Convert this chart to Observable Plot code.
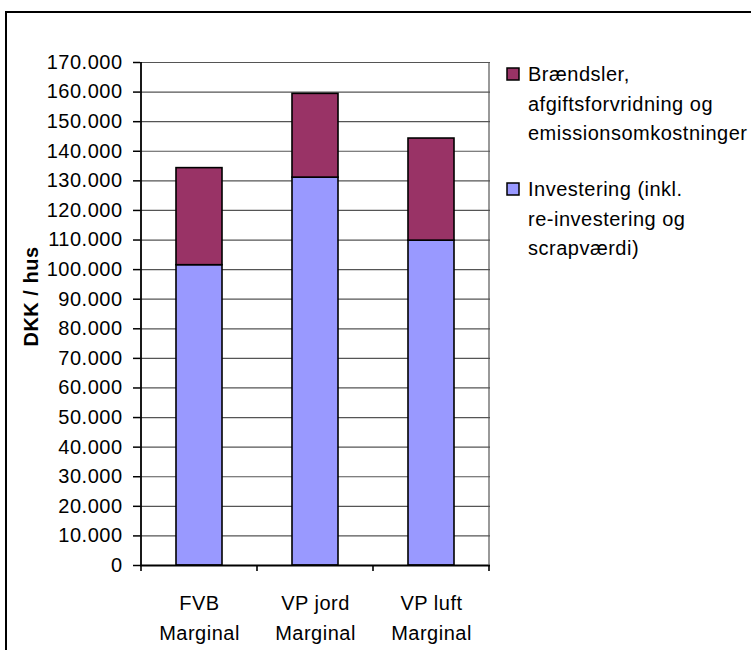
<!DOCTYPE html>
<html>
<head>
<meta charset="utf-8">
<script src="https://cdn.jsdelivr.net/npm/d3@7"></script>
<script src="https://cdn.jsdelivr.net/npm/@observablehq/plot@0.6"></script>
<style>
  html, body { margin: 0; padding: 0; background: #fff; overflow: hidden; }
  #wrap { position: relative; width: 751px; height: 650px; }
  #frame { position: absolute; left: 5px; top: 11px; width: 900px; height: 800px;
           border: 2px solid #000; box-sizing: border-box; }
  #chart { position: absolute; left: 0; top: 0; }
  #chart text { letter-spacing: 0.5px; }
</style>
</head>
<body>
<div id="wrap">
  <div id="frame"></div>
  <div id="chart"></div>
</div>
<script>
// Cost per house (DKK) for three heating options
const categories = ["FVB\nMarginal", "VP jord\nMarginal", "VP luft\nMarginal"];
const investering = [101500, 131100, 109800];
const braendsler = [32800, 28300, 34500];

const seriesNames = [
  "Investering (inkl. re-investering og scrapværdi)",
  "Brændsler, afgiftsforvridning og emissionsomkostninger"
];
const seriesColors = ["#9999FF", "#993366"];

const yTicks = [0, 10000, 20000, 30000, 40000, 50000, 60000, 70000, 80000,
  90000, 100000, 110000, 120000, 130000, 140000, 150000, 160000, 170000];

const yLabel = "DKK / hus";

// Legend entries, listed top to bottom, already broken into lines
const legendSeries = [seriesNames[1], seriesNames[0]];
const legendLines = [
  ["Brændsler,", "afgiftsforvridning og", "emissionsomkostninger"],
  ["Investering (inkl.", "re-investering og", "scrapværdi)"]
];

// Long-form rows: investment first so it stacks at the bottom
const rows = [];
categories.forEach((c, i) => rows.push({category: c, series: seriesNames[0], value: investering[i]}));
categories.forEach((c, i) => rows.push({category: c, series: seriesNames[1], value: braendsler[i]}));

const fontFamily = "'Liberation Sans', Arial, Helvetica, sans-serif";
const danish = d3.formatLocale({decimal: ",", thousands: ".", grouping: [3], currency: ["", " kr"]});
const fmt = danish.format(",");

const chart = Plot.plot({
  width: 751,
  height: 650,
  marginLeft: 140,
  marginRight: 261,
  marginTop: 62,
  marginBottom: 85,
  style: {fontFamily, fontSize: "20px", color: "#000", background: "transparent", overflow: "visible"},
  x: {domain: categories, paddingInner: 0.6, paddingOuter: 0.3, label: null},
  y: {domain: [0, 170000], label: null},
  color: {domain: seriesNames, range: seriesColors},
  marks: [
    Plot.gridY(yTicks, {stroke: "#555", strokeOpacity: 1, strokeWidth: 1.2}),
    Plot.axisY(yTicks, {tickFormat: fmt, tickSize: 7, tickPadding: 11, fontSize: 20, label: null, strokeWidth: 1.5}),
    Plot.axisX({tickSize: 0, tickPadding: 23, lineHeight: 1.5, fontSize: 20, label: null}),
    Plot.barY(rows, {x: "category", y: "value", fill: "series", stroke: "#000", strokeWidth: 1.6}),
    Plot.ruleY([0], {stroke: "#000", strokeWidth: 1.8})
  ]
});

document.getElementById("chart").appendChild(chart);

// Axis line, plot border, category separators, axis title and legend
const xs = chart.scale("x");
const ys = chart.scale("y");
const svg = d3.select(chart);
const y0 = ys.apply(0);
const yTop = ys.apply(170000);
const step = xs.step;
const xLeft = xs.apply(categories[0]) - (step - xs.bandwidth) / 2;
const xRight = xLeft + step * categories.length;

const g = svg.append("g");
g.append("line").attr("x1", xRight).attr("x2", xRight).attr("y1", yTop).attr("y2", y0)
  .attr("stroke", "#555").attr("stroke-width", 1.2);
g.append("line").attr("x1", xLeft).attr("x2", xLeft).attr("y1", yTop).attr("y2", y0 + 1)
  .attr("stroke", "#000").attr("stroke-width", 1.8);
for (let i = 0; i <= categories.length; i++) {
  const x = xLeft + i * step;
  g.append("line").attr("x1", x).attr("x2", x).attr("y1", y0).attr("y2", y0 + 6)
    .attr("stroke", "#000").attr("stroke-width", 1.6);
}

g.append("text")
  .attr("transform", `translate(38,${(yTop + y0) / 2 - 17}) rotate(-90)`)
  .attr("text-anchor", "middle")
  .attr("font-family", fontFamily)
  .attr("font-weight", "bold")
  .attr("font-size", 20)
  .attr("fill", "#000")
  .text(yLabel);

const legend = svg.append("g")
  .attr("font-family", fontFamily).attr("font-size", 20).attr("fill", "#000")
  .attr("text-anchor", "start");
const legendTops = [68, 183];
legendSeries.forEach((s, k) => {
  const top = legendTops[k];
  legend.append("rect").attr("x", 507).attr("y", top).attr("width", 12).attr("height", 12)
    .attr("fill", seriesColors[seriesNames.indexOf(s)]).attr("stroke", "#000").attr("stroke-width", 1.5);
  legendLines[k].forEach((line, j) => {
    legend.append("text").attr("x", 528).attr("y", top + 13 + j * 29.5).text(line);
  });
});
</script>
</body>
</html>
